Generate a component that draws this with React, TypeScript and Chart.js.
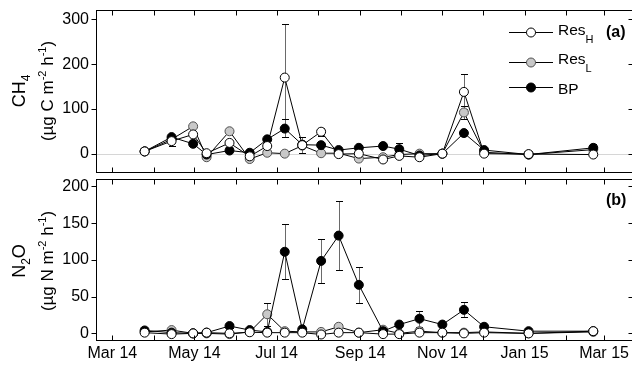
import React, { useEffect, useRef } from "react";
import { Chart, registerables } from "chart.js";

Chart.register(...registerables);

const FONT = "'Liberation Sans', Arial, Helvetica, sans-serif";

// ---------- data ----------
const sampleDates = [
  "2014-03-25", "2014-04-14", "2014-04-30", "2014-05-10", "2014-05-27",
  "2014-06-11", "2014-06-24", "2014-07-07", "2014-07-20", "2014-08-03",
  "2014-08-16", "2014-08-31", "2014-09-18", "2014-09-30", "2014-10-15",
  "2014-11-01", "2014-11-17", "2014-12-02", "2015-01-04", "2015-02-21",
];

const monthTickDates = [
  "2014-03-01", "2014-04-01", "2014-05-01", "2014-06-01", "2014-07-01",
  "2014-08-01", "2014-09-01", "2014-10-01", "2014-11-01", "2014-12-01",
  "2015-01-01", "2015-02-01", "2015-03-01",
];
const xTickLabels = ["Mar 14", "", "May 14", "", "Jul 14", "", "Sep 14", "", "Nov 14", "", "Jan 15", "", "Mar 15"];

const seriesNames = ["ResH", "ResL", "BP"];

const ch4ResH = [5, 28, 43, 1, 24, -6, 17, 170, 19, 49, -1, 0, -13, -5, -8, 0, 138, 0, -1, -2];
const ch4ResL = [5, 32, 61, -8, 50, -12, 2, 0, 18, 1, 1, -11, -8, -2, 0, 0, 92, 3, -2, 9];
const ch4BP = [5, 37, 22, -2, 7, 2, 32, 56, 20, 19, 8, 13, 17, 10, -4, 0, 46, 8, -2, 13];

const n2oResH = [1, -1, 0, 1, 0, 1.5, 1, 1, 1, -1.5, 1, 1, -1, -1, 1, 1, 0, 1, 0, 3];
const n2oResL = [2, 4.5, 0, 0, -1, 2, 26, 3, 2, 2, 9, 1, 5, 0, 3, 1, 1, 2, 0, 2];
const n2oBP = [4, 1, 0, 1, 10, 4.5, 2, 111, 5.5, 98.6, 133, 66, 3, 12, 20, 12, 32, 9, 3, 3];

type Err = [number, number] | null;
const ch4ResHErr: Err[] = [null, [18, 38], null, null, null, null, null, [50, 290], [1, 37], [40, 58], null, null, null, null, null, null, [99, 177], null, null, null];
const ch4ResLErr: Err[] = [null, null, null, null, null, null, null, null, null, null, null, null, null, null, null, null, [77, 107], null, null, null];
const ch4BPErr: Err[] = [null, null, null, null, null, null, null, [37, 77], null, null, null, null, null, [-4, 24], null, null, null, null, null, [5, 21]];

const n2oResHErr: Err[] = [null, null, null, null, null, null, null, null, null, null, null, null, null, null, null, null, null, null, null, null];
const n2oResLErr: Err[] = [null, null, null, null, null, null, [10, 41], null, null, null, [5, 13], null, null, null, null, null, null, null, null, null];
const n2oBPErr: Err[] = [null, null, null, null, [7, 13], null, null, [74.5, 149], null, [68, 129], [86, 180], [42, 90], null, null, [9, 30.5], null, [22, 43], null, null, null];

const ch4Ticks = [0, 100, 200, 300];
const n2oTicks = [0, 50, 100, 150, 200];

// ---------- helpers ----------
const DAY0 = Date.parse("2014-03-01");
const toDay = (s: string) => (Date.parse(s) - DAY0) / 86400000;
const sampleDays = sampleDates.map(toDay);
const monthDays = monthTickDates.map(toDay);

const styles = [
  { fill: "#ffffff", stroke: "#000000", order: 0 },
  { fill: "#c8c8c8", stroke: "#505050", order: 2 },
  { fill: "#000000", stroke: "#000000", order: 1 },
];

type Part = { t: string; s: number; dy?: number; bold?: boolean };

function drawRich(ctx: CanvasRenderingContext2D, parts: Part[], x: number, y: number, rotate: boolean, center: boolean) {
  ctx.save();
  ctx.translate(x, y);
  if (rotate) ctx.rotate(-Math.PI / 2);
  ctx.textBaseline = "alphabetic";
  ctx.textAlign = "left";
  let total = 0;
  const widths = parts.map((p) => {
    ctx.font = `${p.bold ? "bold " : ""}${p.s}px ${FONT}`;
    const w = ctx.measureText(p.t).width;
    total += w;
    return w;
  });
  let cx = center ? -total / 2 : 0;
  parts.forEach((p, i) => {
    ctx.font = `${p.bold ? "bold " : ""}${p.s}px ${FONT}`;
    ctx.fillStyle = "#000";
    ctx.fillText(p.t, cx, p.dy || 0);
    cx += widths[i];
  });
  ctx.restore();
}

type PanelCfg = {
  values: number[][];
  errs: Err[][];
  yMin: number;
  yMax: number;
  yTicks: number[];
  showX: boolean;
  zeroLine: boolean;
  title1: Part[];
  title2: Part[];
  titleCY: number;
  letter: string;
  letterY: number;
  legend: boolean;
  padTop: number;
  padBottom: number;
};

function makePanelPlugin(cfg: PanelCfg) {
  return {
    id: "panelDeco",
    beforeDatasetsDraw(chart: any) {
      const { ctx, chartArea: a, scales } = chart;
      const x = scales.x;
      const y = scales.y;
      ctx.save();
      if (cfg.zeroLine) {
        const py = Math.round(y.getPixelForValue(0)) + 0.5;
        ctx.strokeStyle = "#d6d6d6";
        ctx.lineWidth = 1;
        ctx.beginPath();
        ctx.moveTo(a.left, py);
        ctx.lineTo(a.right, py);
        ctx.stroke();
      }
      // error bars
      cfg.errs.forEach((arr) => {
        arr.forEach((e, i) => {
          if (!e) return;
          const px = Math.round(x.getPixelForValue(sampleDays[i])) + 0.5;
          const y1 = Math.round(y.getPixelForValue(e[0])) + 0.5;
          const y2 = Math.round(y.getPixelForValue(e[1])) + 0.5;
          ctx.strokeStyle = "#6a6a6a";
          ctx.lineWidth = 1;
          ctx.beginPath();
          ctx.moveTo(px, y1);
          ctx.lineTo(px, y2);
          ctx.stroke();
          ctx.strokeStyle = "#000";
          ctx.beginPath();
          ctx.moveTo(px - 3.5, y1);
          ctx.lineTo(px + 3.5, y1);
          ctx.moveTo(px - 3.5, y2);
          ctx.lineTo(px + 3.5, y2);
          ctx.stroke();
        });
      });
      ctx.restore();
    },
    afterDraw(chart: any) {
      const { ctx, chartArea: a, scales } = chart;
      const x = scales.x;
      const y = scales.y;
      ctx.save();
      ctx.strokeStyle = "#000";
      ctx.lineWidth = 1;
      const L = Math.round(a.left) + 0.5;
      const R = Math.round(a.right) + 0.5;
      const T = Math.round(a.top) + 0.5;
      const B = Math.round(a.bottom) + 0.5;
      ctx.strokeRect(L, T, R - L, B - T);
      ctx.beginPath();
      monthDays.forEach((d) => {
        const px = Math.round(x.getPixelForValue(d)) + 0.5;
        ctx.moveTo(px, T);
        ctx.lineTo(px, T + 5);
        ctx.moveTo(px, B);
        ctx.lineTo(px, B - 5);
      });
      cfg.yTicks.forEach((v) => {
        const py = Math.round(y.getPixelForValue(v)) + 0.5;
        ctx.moveTo(L, py);
        ctx.lineTo(L - 5, py);
        ctx.moveTo(R, py);
        ctx.lineTo(R - 5, py);
      });
      ctx.stroke();

      // y titles
      drawRich(ctx, cfg.title1, 25, cfg.titleCY, true, true);
      drawRich(ctx, cfg.title2, 53, cfg.titleCY, true, true);

      // panel letter
      drawRich(ctx, [{ t: cfg.letter, s: 16, bold: true }], 606, cfg.letterY, false, false);

      if (cfg.legend) {
        const rows = [
          { y: 32.5, main: "Res", sub: "H", textY: 35, subY: 8 },
          { y: 62.5, main: "Res", sub: "L", textY: 64, subY: 8 },
          { y: 87.5, main: "BP", sub: "", textY: 94, subY: 0 },
        ];
        rows.forEach((r, i) => {
          const st = styles[i];
          ctx.strokeStyle = "#000";
          ctx.lineWidth = 1;
          ctx.beginPath();
          ctx.moveTo(509, r.y);
          ctx.lineTo(553, r.y);
          ctx.stroke();
          ctx.beginPath();
          ctx.arc(531, r.y, 4.5, 0, Math.PI * 2);
          ctx.fillStyle = st.fill;
          ctx.fill();
          ctx.strokeStyle = st.stroke;
          ctx.stroke();
          const parts: Part[] = [{ t: r.main, s: 15.5 }];
          if (r.sub) parts.push({ t: r.sub, s: 11, dy: r.subY });
          drawRich(ctx, parts, 558, r.textY, false, false);
        });
      }
      ctx.restore();
    },
  };
}

function buildChart(canvas: HTMLCanvasElement, cfg: PanelCfg) {
  const datasets = cfg.values.map((vals, i) => ({
    label: seriesNames[i],
    data: vals.map((v, j) => ({ x: sampleDays[j], y: v })),
    borderColor: "#000",
    borderWidth: 1,
    pointRadius: 4.5,
    pointBorderWidth: 1,
    pointBackgroundColor: styles[i].fill,
    pointBorderColor: styles[i].stroke,
    order: styles[i].order,
    tension: 0,
    fill: false,
  }));
  return new Chart(canvas, {
    type: "line",
    data: { datasets },
    options: {
      animation: false,
      responsive: false,
      events: [],
      devicePixelRatio: 1,
      layout: { autoPadding: false, padding: { left: 0, right: 7, top: cfg.padTop, bottom: cfg.padBottom } },
      plugins: { legend: { display: false }, tooltip: { enabled: false } },
      scales: {
        x: {
          type: "linear",
          display: cfg.showX,
          min: -12.1,
          max: 386.5,
          grid: { display: false, drawTicks: false },
          border: { display: false },
          ticks: {
            autoSkip: false,
            maxRotation: 0,
            minRotation: 0,
            padding: 4,
            color: "#000",
            font: { family: FONT, size: 16 },
            callback: (_v: any, idx: number) => xTickLabels[idx] ?? "",
          },
          afterBuildTicks: (scale: any) => {
            scale.ticks = monthDays.map((d) => ({ value: d }));
          },
          afterFit: (scale: any) => {
            scale.height = cfg.showX ? 25 : 0;
            scale.paddingLeft = 0;
            scale.paddingRight = 0;
            scale.paddingTop = 0;
            scale.paddingBottom = 0;
          },
        },
        y: {
          type: "linear",
          min: cfg.yMin,
          max: cfg.yMax,
          grid: { display: false, drawTicks: false },
          border: { display: false },
          ticks: {
            padding: 7,
            color: "#000",
            font: { family: FONT, size: 16 },
          },
          afterBuildTicks: (scale: any) => {
            scale.ticks = cfg.yTicks.map((v) => ({ value: v }));
          },
          afterFit: (scale: any) => {
            scale.width = 96;
            scale.paddingTop = 0;
            scale.paddingBottom = 0;
          },
        },
      },
    } as any,
    plugins: [makePanelPlugin(cfg)],
  });
}

const topCfg: PanelCfg = {
  values: [ch4ResH, ch4ResL, ch4BP],
  errs: [ch4ResHErr, ch4ResLErr, ch4BPErr],
  yMin: -41,
  yMax: 321,
  yTicks: ch4Ticks,
  showX: false,
  zeroLine: true,
  title1: [{ t: "CH", s: 18 }, { t: "4", s: 12, dy: 5 }],
  title2: [
    { t: "(µg C m", s: 17 },
    { t: "-2", s: 11, dy: -7 },
    { t: " h", s: 17 },
    { t: "-1", s: 11, dy: -7 },
    { t: ")", s: 17 },
  ],
  titleCY: 91,
  letter: "(a)",
  letterY: 37,
  legend: true,
  padTop: 10,
  padBottom: 4,
};

const bottomCfg: PanelCfg = {
  values: [n2oResH, n2oResL, n2oBP],
  errs: [n2oResHErr, n2oResLErr, n2oBPErr],
  yMin: -9,
  yMax: 210,
  yTicks: n2oTicks,
  showX: true,
  zeroLine: false,
  title1: [{ t: "N", s: 18 }, { t: "2", s: 12, dy: 5 }, { t: "O", s: 18 }],
  title2: [
    { t: "(µg N m", s: 17 },
    { t: "-2", s: 11, dy: -7 },
    { t: " h", s: 17 },
    { t: "-1", s: 11, dy: -7 },
    { t: ")", s: 17 },
  ],
  titleCY: 85,
  letter: "(b)",
  letterY: 29,
  legend: false,
  padTop: 3,
  padBottom: 0,
};

export default function App() {
  const topRef = useRef<HTMLCanvasElement | null>(null);
  const botRef = useRef<HTMLCanvasElement | null>(null);
  useEffect(() => {
    const c1 = buildChart(topRef.current!, topCfg);
    const c2 = buildChart(botRef.current!, bottomCfg);
    return () => {
      c1.destroy();
      c2.destroy();
    };
  }, []);
  return (
    <div style={{ position: "fixed", left: 0, top: 0, width: 640, height: 365, background: "#fff" }}>
      <canvas ref={topRef} width={640} height={176} style={{ display: "block", width: 640, height: 176 }} />
      <canvas ref={botRef} width={640} height={189} style={{ display: "block", width: 640, height: 189 }} />
    </div>
  );
}
